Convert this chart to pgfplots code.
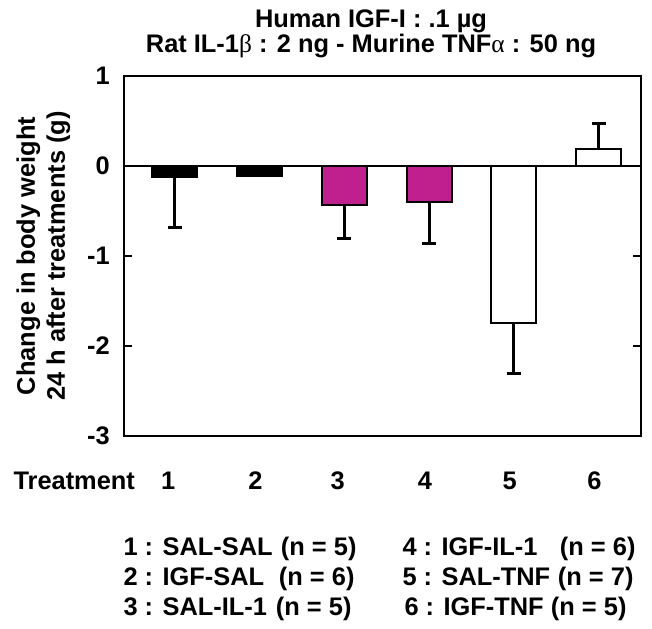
\documentclass[border=0pt]{standalone}
\usepackage{pgfplots}
\pgfplotsset{compat=1.18}
\usepackage{fontspec}
\setmainfont{Liberation Sans}
\newfontfamily\grk{Liberation Serif}
\definecolor{mag}{RGB}{191,32,142}
\newcommand{\ff}{\fontsize{25.5}{30}\selectfont\bfseries}
\pgfplotsset{myerr/.style={error bars/.cd, y dir=#1, y explicit, error mark=|,
  error bar style={line width=3bp, black}, error mark options={line width=3bp, mark size=7bp, black, solid}, /pgfplots/.cd}}
\begin{document}
\begin{tikzpicture}[font=\ff]
\begin{axis}[name=ax, width=517bp, height=360bp, scale only axis,
 xmin=0.4, xmax=6.5, ymin=-3, ymax=1,
 axis line style={line width=2.5bp},
 ytick={-3,-2,-1,0,1}, tick align=inside, major tick length=8bp,
 tick style={line width=2.5bp, black},
 xtick={0.92,1.95,2.92,3.95,4.95,5.95}, xticklabels={1,2,3,4,5,6},
 xtick style={draw=none},
 tick label style={font=\ff},
 xticklabel style={anchor=base, yshift=-53bp, inner sep=0pt},
 yticklabel style={anchor=east, inner sep=0pt, xshift=-14bp},
 /pgf/number format/assume math mode=true,
 extra y ticks={0}, extra y tick labels={},
 extra y tick style={grid=major, major grid style={line width=2.5bp, black}},
 clip=false,
 every axis plot/.append style={ybar, bar width=45bp, bar shift=0pt, draw=black, line width=2bp},
]
\addplot[fill=black, myerr=minus]
  coordinates {(1,-0.12) +- (0,0.56)};
\addplot[fill=black] coordinates {(2,-0.11)};
\addplot[fill=mag, myerr=minus]
  coordinates {(3,-0.43) +- (0,0.38) (4,-0.40) +- (0,0.46)};
\addplot[fill=white, myerr=minus]
  coordinates {(5,-1.74) +- (0,0.57)};
\addplot[fill=white, myerr=plus]
  coordinates {(6,0.19) +- (0,0.28)};
\end{axis}
\node[anchor=base west] at ([xshift=-114bp, yshift=-53bp]ax.south west) {Treatment};
\node[anchor=base] at ([xshift=-11.5bp, yshift=48bp]ax.north) {Human IGF-I : .1 µg};
\node[anchor=base] at ([xshift=-11.5bp, yshift=23bp]ax.north) {Rat IL-1{\grk\mdseries β} : 2 ng - Murine TNF{\grk\mdseries α} : 50 ng};
\node[rotate=90, anchor=base] at ([xshift=-89bp]ax.west) {Change in body weight};
\node[rotate=90, anchor=base] at ([xshift=-59bp]ax.west) {24 h after treatments (g)};
% legend text
\node[anchor=base west] at ([xshift=-4bp, yshift=-119bp]ax.south west) {1 : SAL-SAL};
\node[anchor=base east] at ([xshift=236bp, yshift=-119bp]ax.south west) {(n = 5)};
\node[anchor=base west] at ([xshift=-4bp, yshift=-149.5bp]ax.south west) {2 : IGF-SAL};
\node[anchor=base east] at ([xshift=234bp, yshift=-149.5bp]ax.south west) {(n = 6)};
\node[anchor=base west] at ([xshift=-4bp, yshift=-179bp]ax.south west) {3 : SAL-IL-1};
\node[anchor=base east] at ([xshift=231bp, yshift=-179bp]ax.south west) {(n = 5)};
\node[anchor=base west] at ([xshift=275bp, yshift=-119bp]ax.south west) {4 : IGF-IL-1};
\node[anchor=base east] at ([xshift=515bp, yshift=-119bp]ax.south west) {(n = 6)};
\node[anchor=base west] at ([xshift=275bp, yshift=-149.5bp]ax.south west) {5 : SAL-TNF};
\node[anchor=base east] at ([xshift=513bp, yshift=-149.5bp]ax.south west) {(n = 7)};
\node[anchor=base west] at ([xshift=277bp, yshift=-179bp]ax.south west) {6 : IGF-TNF};
\node[anchor=base east] at ([xshift=506bp, yshift=-179bp]ax.south west) {(n = 5)};
\pgfresetboundingbox
\useasboundingbox ([xshift=-124bp, yshift=-193bp]ax.south west) rectangle ++(652bp,629bp);
\end{tikzpicture}
\end{document}
